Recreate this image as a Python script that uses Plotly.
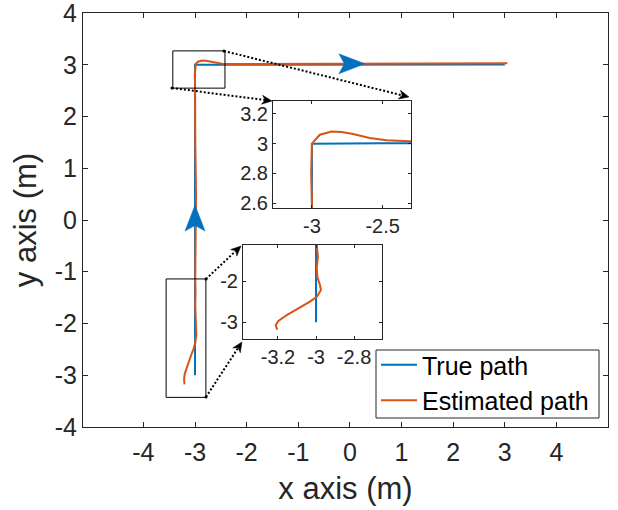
import plotly.graph_objects as go

# ---------------- data ----------------
X_TICKS = [-4, -3, -2, -1, 0, 1, 2, 3, 4]
X_TICK_TEXT = ["-4", "-3", "-2", "-1", "0", "1", "2", "3", "4"]
Y_TICKS = [-4, -3, -2, -1, 0, 1, 2, 3, 4]
Y_TICK_TEXT = ["-4", "-3", "-2", "-1", "0", "1", "2", "3", "4"]

INSET1_X_TICKS = [-3, -2.5]
INSET1_X_TEXT = ["-3", "-2.5"]
INSET1_Y_TICKS = [2.6, 2.8, 3.0, 3.2]
INSET1_Y_TEXT = ["2.6", "2.8", "3", "3.2"]

INSET2_X_TICKS = [-3.2, -3.0, -2.8]
INSET2_X_TEXT = ["-3.2", "-3", "-2.8"]
INSET2_Y_TICKS = [-3, -2]
INSET2_Y_TEXT = ["-3", "-2"]

true_x = [-3.0, -3.0, -2.5, 0.0, 3.0]
true_y = [-3.0, 3.0, 3.002, 3.005, 3.005]

est_x = [-3.204, -3.212, -3.198, -3.154, -3.084, -3.032, -2.996, -2.974, -2.979,
         -2.993, -2.996, -2.990, -2.996, -2.990, -2.980, -2.995, -2.990, -3.000,
         -3.005, -3.000, -2.986, -2.944, -2.861, -2.790, -2.709, -2.592, -2.474,
         -2.310, -1.500, 0.000, 1.500, 2.200, 3.050]
est_y = [-3.180, -3.070, -2.970, -2.830, -2.640, -2.500, -2.380, -2.220, -2.100,
         -1.900, -1.650, -1.410, -1.120, -0.500, 0.500, 1.500, 2.200, 2.700,
         2.800, 2.995, 3.016, 3.060, 3.082, 3.078, 3.065, 3.038, 3.023,
         3.016, 3.020, 3.025, 3.030, 3.033, 3.030]

# ---------------- layout constants ----------------
W, H = 618, 510
ML, MR, MT, MB = 83, 10, 13, 83
X_RANGE = [-5.17, 5.0]
Y_RANGE = [-4.003, 4.003]
PW, PH = W - ML - MR, H - MT - MB

INSET1_RANGE_X = [-3.275, -2.30]
INSET1_RANGE_Y = [2.567, 3.287]
INSET2_RANGE_X = [-3.384, -2.653]
INSET2_RANGE_Y = [-3.41, -1.12]

BLUE = "#0072BD"
ORANGE = "#D95319"
AX = "#262626"
FONT = "Liberation Sans, Arial, Helvetica, sans-serif"


def px2x(px):
    return X_RANGE[0] + (px - ML) / PW * (X_RANGE[1] - X_RANGE[0])


def py2y(py):
    return Y_RANGE[1] - (py - MT) / PH * (Y_RANGE[1] - Y_RANGE[0])


def x2px(x):
    return ML + (x - X_RANGE[0]) / (X_RANGE[1] - X_RANGE[0]) * PW


def y2py(y):
    return MT + (Y_RANGE[1] - y) / (Y_RANGE[1] - Y_RANGE[0]) * PH


def dom_x(p0, p1):
    return [(p0 - ML) / PW, (p1 - ML) / PW]


def dom_y(p_top, p_bot):
    return [(H - MB - p_bot) / PH, (H - MB - p_top) / PH]


def head_path(tx, ty, ux, uy, length, half, notch):
    """arrowhead with notch, pixel coords in, data-coord SVG path out"""
    nx, ny = -uy, ux
    pts = [
        (tx, ty),
        (tx - length * ux + half * nx, ty - length * uy + half * ny),
        (tx - (length - notch) * ux, ty - (length - notch) * uy),
        (tx - length * ux - half * nx, ty - length * uy - half * ny),
    ]
    s = "M " + " L ".join(f"{px2x(a):.5f},{py2y(b):.5f}" for a, b in pts) + " Z"
    return s


fig = go.Figure()

# main traces
fig.add_trace(go.Scatter(x=true_x, y=true_y, mode="lines", name="True path",
                         line=dict(color=BLUE, width=2), xaxis="x", yaxis="y"))
fig.add_trace(go.Scatter(x=est_x, y=est_y, mode="lines", name="Estimated path",
                         line=dict(color=ORANGE, width=2), xaxis="x", yaxis="y"))
# inset 1
fig.add_trace(go.Scatter(x=true_x, y=true_y, mode="lines", showlegend=False,
                         line=dict(color=BLUE, width=2), xaxis="x2", yaxis="y2"))
fig.add_trace(go.Scatter(x=est_x, y=est_y, mode="lines", showlegend=False,
                         line=dict(color=ORANGE, width=2), xaxis="x2", yaxis="y2"))
# inset 2
fig.add_trace(go.Scatter(x=true_x, y=true_y, mode="lines", showlegend=False,
                         line=dict(color=BLUE, width=2), xaxis="x3", yaxis="y3"))
fig.add_trace(go.Scatter(x=est_x, y=est_y, mode="lines", showlegend=False,
                         line=dict(color=ORANGE, width=2), xaxis="x3", yaxis="y3"))

shapes = []
# zoom boxes
shapes.append(dict(type="rect", xref="x", yref="y", x0=-3.43, x1=-2.42, y0=2.55, y1=3.27,
                   line=dict(color="black", width=1)))
shapes.append(dict(type="rect", xref="x", yref="y", x0=-3.56, x1=-2.79, y0=-3.43, y1=-1.14,
                   line=dict(color="black", width=1)))

# blue direction arrowheads
for (dx, dy, ux, uy) in [(-3.0, 0.29, 0, -1), (0.29, 3.02, 1, 0)]:
    shapes.append(dict(type="path", xref="x", yref="y",
                       path=head_path(x2px(dx), y2py(dy), ux, uy, 26, 10, 5.5),
                       fillcolor=BLUE, line=dict(color=BLUE, width=0.5)))

# dotted connector arrows (pixel start -> pixel tip)
connectors = [((224, 51), (409, 97)), ((172, 88), (272, 101)),
              ((206, 279), (241, 246)), ((206, 397), (242, 342))]
for (sx, sy), (tx, ty) in connectors:
    d = ((tx - sx) ** 2 + (ty - sy) ** 2) ** 0.5
    ux, uy = (tx - sx) / d, (ty - sy) / d
    ex, ey = tx - 7 * ux, ty - 7 * uy
    shapes.append(dict(type="line", xref="x", yref="y",
                       x0=px2x(sx), y0=py2y(sy), x1=px2x(ex), y1=py2y(ey),
                       line=dict(color="black", width=2, dash="2px,2px")))
    shapes.append(dict(type="path", xref="x", yref="y",
                       path=head_path(tx, ty, ux, uy, 10, 4.5, 3),
                       fillcolor="black", line=dict(color="black", width=0.5)))
    shapes.append(dict(type="circle", xref="x", yref="y",
                       x0=px2x(sx - 1.5), x1=px2x(sx + 1.5), y0=py2y(sy + 1.5), y1=py2y(sy - 1.5),
                       fillcolor="black", line=dict(color="black", width=0)))

# legend frame (drawn separately for a tight box)
LEG_L, LEG_R, LEG_T, LEG_B = 376, 599, 350, 418
shapes.append(dict(type="rect", xref="paper", yref="paper",
                   x0=(LEG_L - ML) / PW, x1=(LEG_R - ML) / PW,
                   y0=(H - MB - LEG_B) / PH, y1=(H - MB - LEG_T) / PH,
                   line=dict(color=AX, width=1), fillcolor="rgba(0,0,0,0)"))

axis_common = dict(showgrid=False, zeroline=False, showline=True, linecolor=AX, linewidth=1,
                   mirror="ticks", ticks="inside", tickcolor=AX, tickwidth=1, automargin=False,
                   ticklabeloverflow="allow", tickfont=dict(family=FONT, color=AX))

fig.update_layout(
    width=W, height=H,
    margin=dict(l=ML, r=MR, t=MT, b=MB, pad=0, autoexpand=False),
    paper_bgcolor="white", plot_bgcolor="white",
    font=dict(family=FONT, color=AX),
    xaxis=dict(axis_common, domain=[0, 1], range=X_RANGE, tickvals=X_TICKS, ticktext=X_TICK_TEXT,
               ticklen=5, ticklabelstandoff=3, tickfont=dict(family=FONT, size=25, color=AX),
               title=dict(text="x axis (m)", font=dict(family=FONT, size=31, color=AX), standoff=12)),
    yaxis=dict(axis_common, domain=[0, 1], range=Y_RANGE, tickvals=Y_TICKS, ticktext=Y_TICK_TEXT,
               ticklen=5, tickfont=dict(family=FONT, size=25, color=AX),
               title=dict(text="y axis (m)", font=dict(family=FONT, size=31, color=AX), standoff=8)),
    xaxis2=dict(axis_common, domain=dom_x(273, 411), range=INSET1_RANGE_X, anchor="y2",
                tickvals=INSET1_X_TICKS, ticktext=INSET1_X_TEXT, ticklen=3,
                tickfont=dict(family=FONT, size=20, color=AX)),
    yaxis2=dict(axis_common, domain=dom_y(101, 208), range=INSET1_RANGE_Y, anchor="x2",
                tickvals=INSET1_Y_TICKS, ticktext=INSET1_Y_TEXT, ticklen=3,
                tickfont=dict(family=FONT, size=20, color=AX)),
    xaxis3=dict(axis_common, domain=dom_x(243, 382), range=INSET2_RANGE_X, anchor="y3",
                tickvals=INSET2_X_TICKS, ticktext=INSET2_X_TEXT, ticklen=3,
                tickfont=dict(family=FONT, size=20, color=AX)),
    yaxis3=dict(axis_common, domain=dom_y(245, 339), range=INSET2_RANGE_Y, anchor="x3",
                tickvals=INSET2_Y_TICKS, ticktext=INSET2_Y_TEXT, ticklen=3,
                tickfont=dict(family=FONT, size=20, color=AX)),
    legend=dict(x=(LEG_L - ML) / PW, y=(H - MB - (LEG_T - 8)) / PH, xanchor="left", yanchor="top",
                bgcolor="rgba(0,0,0,0)", borderwidth=0,
                font=dict(family=FONT, size=25, color="black"), tracegroupgap=0,
                itemwidth=36),
    shapes=shapes,
    showlegend=True,
)

fig.write_html("out.html", config={"displayModeBar": False},
               post_script="document.body.style.margin='0';document.body.style.padding='0';")
